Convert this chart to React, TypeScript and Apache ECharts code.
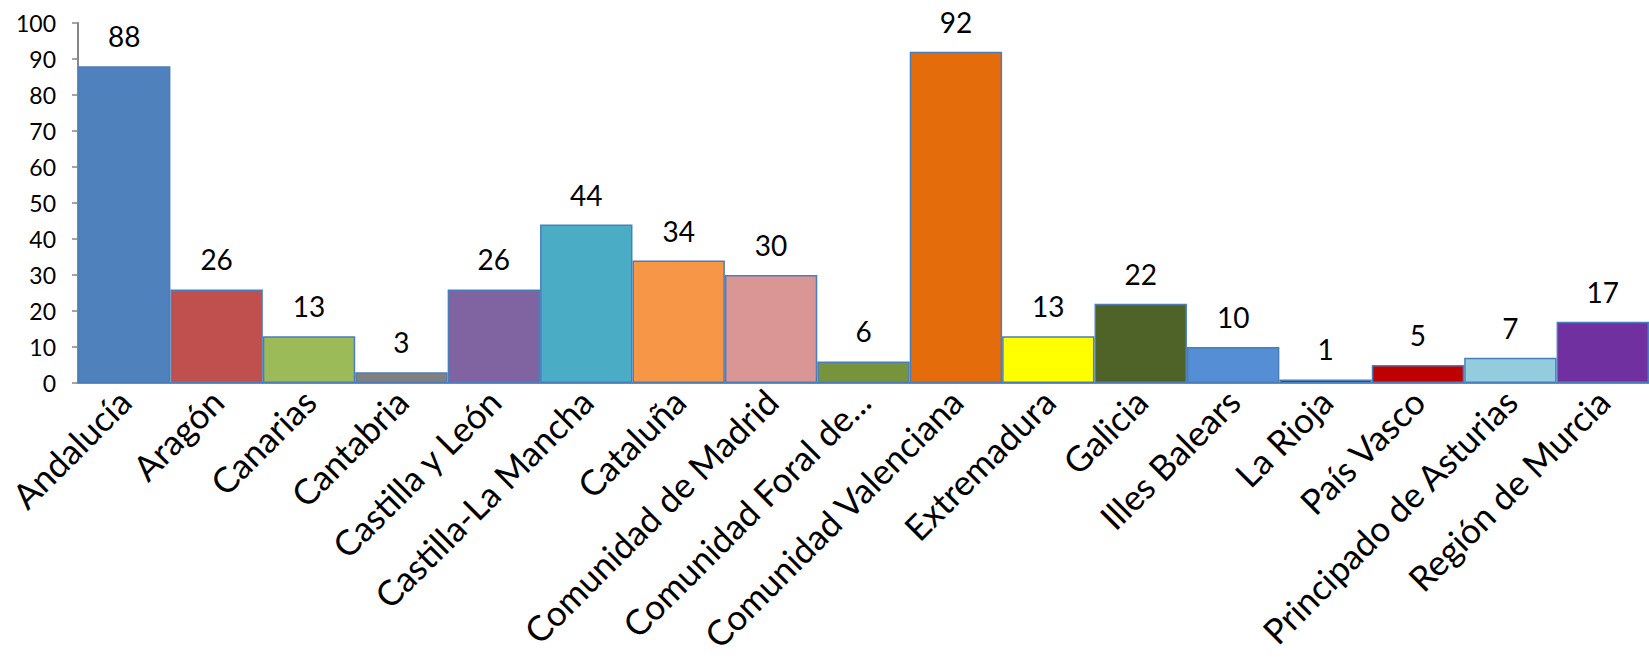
import React, { useEffect, useRef } from "react";
import * as echarts from "echarts";

const categories = [
  "Andalucía",
  "Aragón",
  "Canarias",
  "Cantabria",
  "Castilla y León",
  "Castilla-La Mancha",
  "Cataluña",
  "Comunidad de Madrid",
  "Comunidad Foral de...",
  "Comunidad Valenciana",
  "Extremadura",
  "Galicia",
  "Illes Balears",
  "La Rioja",
  "País Vasco",
  "Principado de Asturias",
  "Región de Murcia",
];

const values = [88, 26, 13, 3, 26, 44, 34, 30, 6, 92, 13, 22, 10, 1, 5, 7, 17];

const barColors = [
  "#4F81BD",
  "#C0504D",
  "#9BBB59",
  "#808080",
  "#8064A2",
  "#4BACC6",
  "#F79646",
  "#D99694",
  "#77933C",
  "#E46C0A",
  "#FFFF00",
  "#4F6228",
  "#558ED5",
  "#262626",
  "#C00000",
  "#93CDDD",
  "#7030A0",
];

const yTicks = { min: 0, max: 100, interval: 10 };

export default function App() {
  const ref = useRef<HTMLDivElement>(null);
  useEffect(() => {
    document.body.style.margin = "0";
    if (!ref.current) return;
    const chart = echarts.init(ref.current, undefined, { renderer: "svg" });
    const font = "Lato";
    chart.setOption({
      animation: false,
      backgroundColor: "#ffffff",
      grid: { left: 78, top: 23, height: 360, width: 93 * 17, containLabel: false },
      xAxis: {
        type: "category",
        data: categories,
        axisLine: { show: true, lineStyle: { color: "#868686", width: 2 } },
        axisTick: { show: false },
        axisLabel: {
          rotate: 45,
          interval: 0,
          margin: 12,
          color: "#000",
          fontFamily: font,
          fontSize: 35,
        },
      },
      yAxis: {
        type: "value",
        min: yTicks.min,
        max: yTicks.max,
        interval: yTicks.interval,
        splitLine: { show: false },
        axisLine: { show: true, lineStyle: { color: "#868686", width: 2 } },
        axisTick: { show: true, length: 6, lineStyle: { color: "#868686", width: 1.5 } },
        axisLabel: { color: "#000", fontFamily: font, fontSize: 23, margin: 22 },
      },
      series: [
        {
          type: "bar",
          barCategoryGap: "0%",
          data: values.map((v, i) => ({
            value: v,
            itemStyle: { color: barColors[i] },
          })),
          itemStyle: { borderColor: "#4A7EBB", borderWidth: 1.5 },
          label: {
            show: true,
            position: "top",
            distance: 16,
            color: "#000",
            fontFamily: font,
            fontSize: 28,
          },
        },
      ],
    });
    return () => chart.dispose();
  }, []);
  return <div ref={ref} style={{ width: 1649, height: 672 }} />;
}
